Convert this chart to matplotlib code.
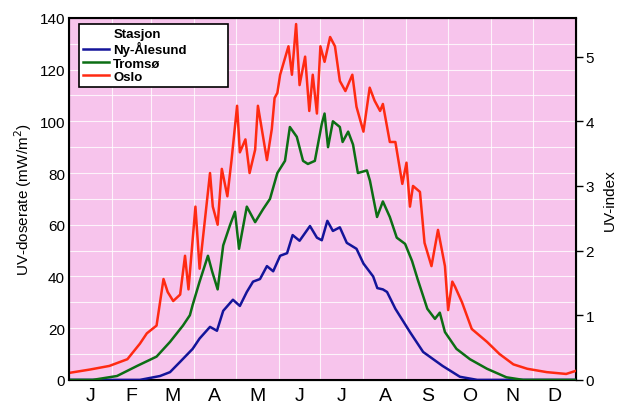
import matplotlib
matplotlib.use("Agg")
import matplotlib.pyplot as plt
from matplotlib.lines import Line2D

plt.rcParams['font.family'] = ['Liberation Sans', 'DejaVu Sans']

# ================================================================================================
# Data (day of year, UV dose rate in mW/m^2)
# ================================================================================================

oslo_day = [0, 15, 29, 42, 51, 56, 63, 65.5, 68, 71, 75, 80, 83.5, 86, 91, 94, 101.5, 103.5,
            107, 110, 114, 117, 121, 123, 127, 130, 134, 136, 142.5, 146, 148, 150, 152, 158,
            160.5, 163.5, 166, 170, 173, 175.5, 178.5, 181, 184, 188, 191.5, 195, 199, 204,
            207, 212, 216.5, 220, 224, 226, 231, 235, 240, 243, 245.5, 247.7, 252.7, 256, 261,
            265.7, 270.7, 273, 276, 278, 283, 290, 301, 310, 320, 330, 344, 358, 365]
oslo_val = [2.7, 4, 5.4, 8, 14, 18, 21, 30, 39, 34, 30.5, 33, 48, 35, 67, 43, 80, 67,
            60, 81.6, 71, 85, 106, 88, 93, 80, 89, 106, 85, 97, 109, 111, 118, 129,
            118, 137.6, 114, 125, 104, 118, 103, 129, 123, 132.6, 129, 115.6, 111.7, 118,
            105.6, 96, 113, 108, 104, 106.7, 92, 92, 75.8, 84, 67, 75, 72.7, 53, 44,
            58, 44, 27, 38, 36, 30, 19.7, 14.7, 10, 6, 4.3, 3, 2.3, 3.5]

tromso_day = [0, 17, 34.5, 49, 63, 72.7, 82, 87, 89, 94, 100, 103, 107, 111, 116, 119.5,
              122.4, 128, 134, 139.7, 144.7, 150, 155.5, 159, 164, 168.5, 172, 177, 182, 184,
              186.5, 190, 195, 197, 201, 204.5, 208, 214.5, 216.7, 221.8, 226, 231, 236, 242,
              247, 251, 258, 263.5, 267, 270.7, 279, 288.7, 301, 315, 327, 365]
tromso_val = [0, 0, 1.5, 5.4, 9, 14.7, 21, 25, 29, 38, 48, 42, 35, 52, 60, 65,
              50.7, 67, 61, 66, 70, 80, 84.7, 97.8, 94, 84.7, 83.5, 84.7, 99, 103,
              90, 100, 97.8, 92, 96, 91, 80, 81, 77, 63, 69, 63, 55, 52.6,
              46, 39, 27.5, 23.6, 26, 18.5, 12, 8, 4.3, 1, 0, 0]

nyaal_day = [0, 51, 65.5, 72.7, 80, 89, 94, 101.5, 106.5, 111, 118, 123, 128, 132.5, 137.5,
             142.5, 147, 152, 157, 161, 166, 173.5, 178.5, 182, 186, 190, 195, 200, 207, 212,
             219, 222, 226, 229, 235, 245.5, 255, 269, 281.5, 294, 365]
nyaal_val = [0, 0, 1.5, 3, 7, 12, 16, 20.5, 19, 26.7, 31, 28.6, 34, 38, 39,
             44, 42, 48, 49, 56, 53.8, 59.5, 55, 54, 61.5, 57.6, 59, 53, 50.7, 45,
             40, 35.5, 35, 34, 27.5, 18.5, 10.8, 5.4, 1.2, 0, 0]

months = ['J', 'F', 'M', 'A', 'M', 'J', 'J', 'A', 'S', 'O', 'N', 'D']
month_start = [0, 31, 59, 90, 120, 151, 181, 212, 243, 273, 304, 334, 365]

# ================================================================================================
# Plot
# ================================================================================================

fig = plt.figure(figsize=(6.28, 4.10), dpi=100)
ax = fig.add_axes([0.110, 0.071, 0.807, 0.883])
ax.set_facecolor('#f7c4ec')

for s in range(1, 12):
    ax.axvline(month_start[s], color='white', linewidth=0.8, alpha=0.8, zorder=1)
for v in range(10, 140, 10):
    ax.axhline(v, color='white', linewidth=0.8, alpha=0.8, zorder=1)

ax.plot(nyaal_day, nyaal_val, color='#14149a', linewidth=1.8, label='Ny-Ålesund', zorder=3)
ax.plot(tromso_day, tromso_val, color='#0c6e14', linewidth=1.8, label='Tromsø', zorder=3)
ax.plot(oslo_day, oslo_val, color='#ff2a12', linewidth=1.8, label='Oslo', zorder=3)

ax.set_xlim(0, 365)
ax.set_ylim(0, 140)
ax.set_yticks(range(0, 141, 20))
ax.tick_params(axis='y', length=0, pad=3, labelsize=11)

mid = [(month_start[i] + month_start[i + 1]) / 2 for i in range(12)]
ax.set_xticks(mid)
ax.set_xticklabels(months, fontsize=14)
ax.tick_params(axis='x', length=0, pad=5)
ax.set_ylabel('UV-doserate (mW/m$^2$)', fontsize=11, labelpad=4)

for sp in ax.spines.values():
    sp.set_linewidth(1.5)

ax2 = ax.twinx()
ax2.set_ylim(0, 140 / 25)
ax2.set_yticks(range(0, 6))
ax2.tick_params(axis='y', length=5, width=1, pad=2, labelsize=11)
ax2.set_ylabel('UV-index', fontsize=11, labelpad=6)

# legend: the title is a blank-handle row so it sits left like the original
handles, labels = ax.get_legend_handles_labels()
handles = [Line2D([], [], color='none')] + handles
labels = ['Stasjon'] + labels
leg = ax.legend(handles, labels, loc='upper left', mode='expand',
                bbox_to_anchor=(0.0197, 0.983, 0.294, 0.0), borderaxespad=0,
                prop={'size': 9.5, 'weight': 'bold'}, frameon=True, fancybox=False,
                borderpad=0.3, labelspacing=0.08, handlelength=2.0, handletextpad=0.3)
leg.get_frame().set_edgecolor('black')
leg.get_frame().set_linewidth(1.2)
leg.get_frame().set_facecolor('white')
leg.get_frame().set_alpha(1)

fig.savefig('out.png', dpi=100)
